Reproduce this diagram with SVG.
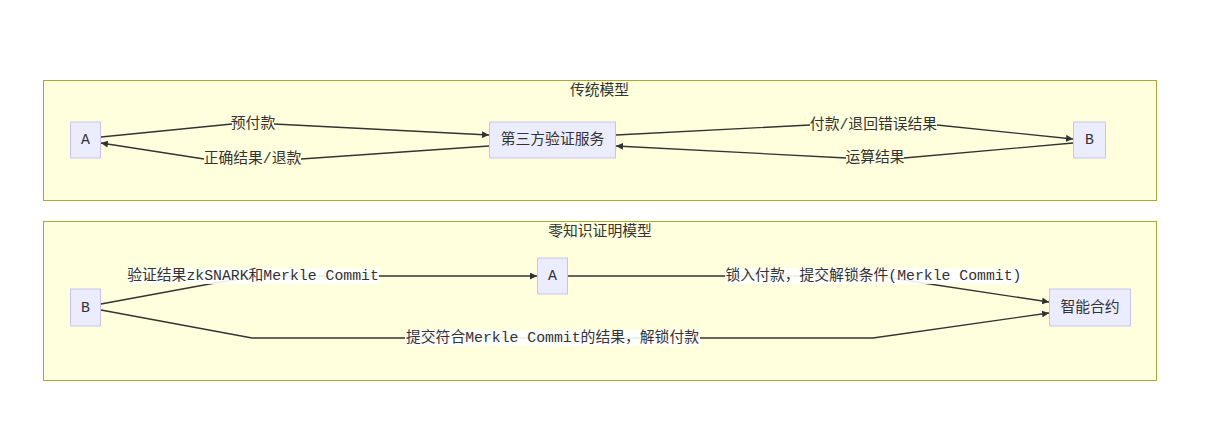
<svg xmlns="http://www.w3.org/2000/svg" width="1211" height="439" viewBox="0 0 1211 439">
<defs>
<marker id="arr" viewBox="0 0 10 10" refX="10" refY="5" markerWidth="7" markerHeight="7" markerUnits="userSpaceOnUse" orient="auto">
<path d="M0,0 L10,5 L0,10 z" fill="#333"/>
</marker>
<style>
.cluster{fill:#ffffde;stroke:#aaaa33;stroke-width:1}
.node rect{fill:#ececff;stroke:#c9c3f0;stroke-width:1}
.t{font-family:"Liberation Mono","Noto Sans CJK SC",monospace;font-size:14.8px;fill:#333;text-anchor:middle;dominant-baseline:central}
.edge{fill:none;stroke:#333;stroke-width:1.3;marker-end:url(#arr)}
.lbl1{fill:#ffffde}
.lbl2{fill:#ffffff;opacity:0.9}
</style>
</defs>
<rect width="1211" height="439" fill="#ffffff"/>
<g id="cluster-traditional">
<rect class="cluster" x="43.5" y="80.5" width="1113" height="120"/>
<text class="t" x="599.5" y="91">传统模型</text>
</g>
<g id="cluster-zk">
<rect class="cluster" x="43.5" y="221.5" width="1113" height="159"/>
<text class="t" x="600" y="232">零知识证明模型</text>
</g>
<g id="connectors">
<path class="edge" d="M101,137 L232,124 L274,124 L489,135"/>
<path class="edge" d="M489,146 L301,159 L204,159 L101,143"/>
<path class="edge" d="M616,135 L810,125 L937,125 L1073,139"/>
<path class="edge" d="M1073,143 L904,158 L846,158 L616,146"/>
<path class="edge" d="M101,304 L215,283 L260,276 L537,276"/>
<path class="edge" d="M568,276 L880,276 L923,283 L1049,302"/>
<path class="edge" d="M101,310 L252,338 L873,338 L1049,313"/>
</g>
<g id="edge-labels">
<rect class="lbl1" x="232" y="116" width="42" height="17"/>
<text class="t" x="253" y="124">预付款</text>
<rect class="lbl1" x="204" y="151" width="97" height="17"/>
<text class="t" x="252.5" y="159">正确结果/退款</text>
<rect class="lbl1" x="810" y="116" width="127" height="17"/>
<text class="t" x="873.5" y="125">付款/退回错误结果</text>
<rect class="lbl1" x="846" y="150" width="58" height="17"/>
<text class="t" x="875" y="158">运算结果</text>
<rect class="lbl2" x="127" y="268" width="252" height="16"/>
<text class="t" x="253" y="276">验证结果zkSNARK和Merkle Commit</text>
<rect class="lbl2" x="725" y="268" width="297" height="16"/>
<text class="t" x="873.5" y="276">锁入付款，提交解锁条件(Merkle Commit)</text>
<rect class="lbl2" x="405" y="330" width="295" height="16"/>
<text class="t" x="552.5" y="338">提交符合Merkle Commit的结果，解锁付款</text>
</g>
<g id="node-A1" class="node">
<rect x="70.5" y="122" width="30" height="36"/>
<text class="t" x="85.5" y="140">A</text>
</g>
<g id="node-service" class="node">
<rect x="489.5" y="122" width="126" height="36"/>
<text class="t" x="552.5" y="140">第三方验证服务</text>
</g>
<g id="node-B1" class="node">
<rect x="1073.5" y="122" width="32" height="36"/>
<text class="t" x="1089.5" y="140">B</text>
</g>
<g id="node-B2" class="node">
<rect x="70.5" y="289" width="30" height="37"/>
<text class="t" x="85.5" y="307.5">B</text>
</g>
<g id="node-A2" class="node">
<rect x="537.5" y="258" width="30" height="36"/>
<text class="t" x="552.5" y="276">A</text>
</g>
<g id="node-contract" class="node">
<rect x="1049.5" y="289" width="81" height="37"/>
<text class="t" x="1090" y="307.5">智能合约</text>
</g>
</svg>
